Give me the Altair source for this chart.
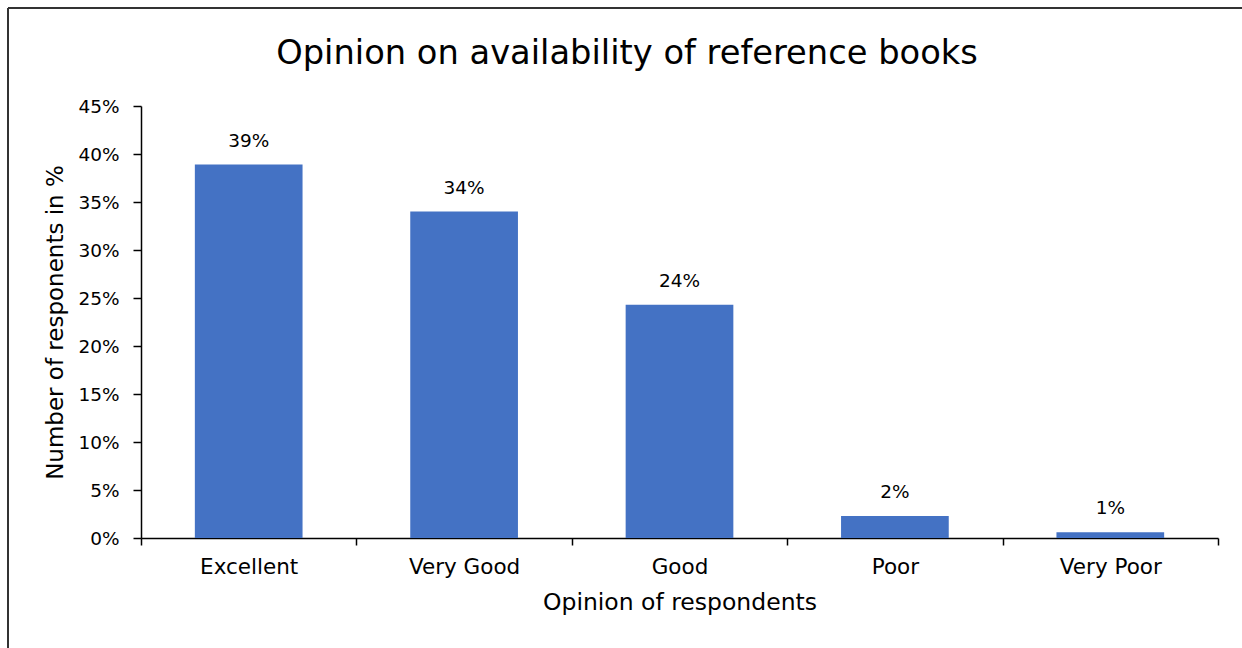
import altair as alt
import pandas as pd

# Survey results: share of respondents per opinion category
opinions = ["Excellent", "Very Good", "Good", "Poor", "Very Poor"]
shares = [0.389, 0.340, 0.243, 0.023, 0.006]
chart_title = ["Opinion on availability of reference books"]

df = pd.DataFrame({"opinion": opinions, "share": shares})
title_df = pd.DataFrame({"title": chart_title})

FONT = "DejaVu Sans"
PLOT_W = 1077
PLOT_H = 432

base = alt.Chart(df).encode(
    x=alt.X(
        "opinion:N",
        sort=opinions,
        title="Opinion of respondents",
        scale=alt.Scale(paddingInner=0, paddingOuter=0),
        axis=alt.Axis(
            labelAngle=0,
            tickBand="extent",
            tickSize=7,
            labelPadding=11,
            labelFontSize=21.5,
            titleFontSize=23.5,
            titlePadding=13,
        ),
    ),
    y=alt.Y(
        "share:Q",
        title="Number of responents in %",
        scale=alt.Scale(domain=[0, 0.45]),
        axis=alt.Axis(
            format=".0%",
            values=[i * 0.05 for i in range(10)],
            tickSize=8,
            labelPadding=14,
            labelFontSize=18.5,
            titleFontSize=23,
            titlePadding=10,
            grid=False,
        ),
    ),
)

bars = base.mark_bar(color="#4472C4", width={"band": 0.5})

labels = base.mark_text(
    dy=-24, fontSize=18.5, font=FONT, color="#000000"
).encode(text=alt.Text("share:Q", format=".0%"))

# Chart heading, centred over the outer frame
heading = alt.Chart(title_df).mark_text(
    fontSize=33.7, font=FONT, color="#000000", baseline="alphabetic", align="center"
).encode(text="title:N", x=alt.value(486), y=alt.value(-42))

# Outer frame lines around the chart
frame_left = alt.Chart(df).mark_rule(color="#333333", strokeWidth=1.5).encode(
    x=alt.value(-133), y=alt.value(-98), y2=alt.value(560)
)
frame_top = alt.Chart(df).mark_rule(color="#333333", strokeWidth=1.5).encode(
    x=alt.value(-133), x2=alt.value(1120), y=alt.value(-98)
)

chart = (
    alt.layer(bars, labels, heading, frame_left, frame_top)
    .properties(
        width=PLOT_W,
        height=PLOT_H,
        autosize=alt.AutoSizeParams(type="none"),
        padding={"left": 141, "top": 106, "right": 24, "bottom": 110},
        background="#ffffff",
    )
    .configure_view(stroke=None)
    .configure_axis(
        domainColor="#000000",
        tickColor="#000000",
        domainWidth=1.5,
        tickWidth=1.5,
        labelFont=FONT,
        titleFont=FONT,
        labelColor="#000000",
        titleColor="#000000",
        titleFontWeight="normal",
    )
)

chart.save("out.html", embed_options={"renderer": "svg", "actions": False})
